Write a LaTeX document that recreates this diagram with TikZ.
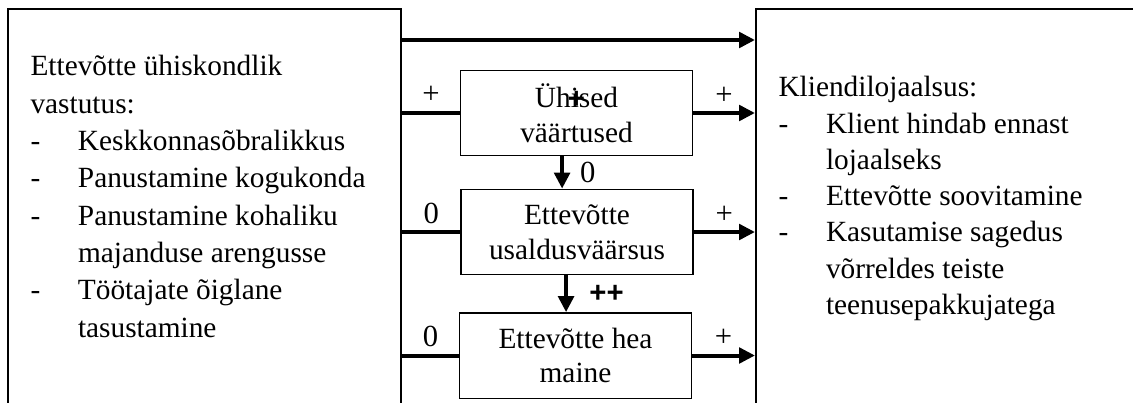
\documentclass[tikz,border=0pt]{standalone}
\usepackage{fontspec}
\setmainfont{Liberation Serif}
\newfontfamily\boldsans{Liberation Sans}
\usetikzlibrary{arrows.meta}

\tikzset{
  bigbox/.style={draw, line width=0.75pt, minimum height=158pt, inner sep=0pt},
  factor/.style={draw, line width=0.5pt, minimum width=87pt, minimum height=32pt,
    align=center, inner sep=0pt, font=\fontsize{11}{13}\selectfont},
  link/.style={line width=1.5pt},
  arr/.style={link, -{Triangle[length=6pt,width=5.8pt]}},
  sign/.style={font=\fontsize{11.5}{13}\selectfont, inner sep=1pt},
  strong/.style={font=\boldsans\bfseries\fontsize{11}{13}\selectfont, inner sep=1pt},
  listtext/.style={align=left, inner sep=0pt, anchor=north west}
}
\newcommand{\itemdash}{\makebox[17.8pt][l]{-}}
\newcommand{\itemgap}{\hspace*{17.8pt}}

\begin{document}
\begin{tikzpicture}[x=0.375pt, y=-0.375pt]
  \clip (0,0) rectangle (1133,403);
  % side boxes
  \node[bigbox, minimum width=147.4pt] (csr)   at (204.5,219.5) {};
  \node[bigbox, minimum width=151.5pt] (loyal) at (958,219.5) {};
  \node[listtext, font=\fontsize{11}{14}\selectfont] (csrtext) at (30,55)
    {Ettevõtte ühiskondlik\\
     vastutus:\\
     \itemdash Keskkonnasõbralikkus\\
     \itemdash Panustamine kogukonda\\
     \itemdash Panustamine kohaliku\\
     \itemgap majanduse arengusse\\
     \itemdash Töötajate õiglane\\
     \itemgap tasustamine};
  \node[listtext, font=\fontsize{11}{13.6}\selectfont] (loyaltext) at (778,76)
    {Kliendilojaalsus:\\
     \itemdash Klient hindab ennast\\
     \itemgap lojaalseks\\
     \itemdash Ettevõtte soovitamine\\
     \itemdash Kasutamise sagedus\\
     \itemgap võrreldes teiste\\
     \itemgap teenusepakkujatega};

  % middle chain
  \node[factor] (values) at (576.5,113)   {Ühised\\väärtused};
  \node[factor] (trust)  at (577,232)     {Ettevõtte\\usaldusväärsus};
  \node[factor] (image)  at (575.5,355.5) {Ettevõtte hea\\maine};
  \node[strong] (stray) at ([yshift=4.9pt]values.center) {+};

  \coordinate (direct) at (0,40);
  \draw[arr] (csr.east |- direct) -- (loyal.west |- direct);

  \draw[link] (csr.east |- values) -- node[sign, above=2pt] {+} (values);
  \draw[arr] (values) -- node[sign, above=1.5pt] {+} (values -| loyal.west);
  \draw[link] (csr.east |- trust) -- node[sign, above=1.5pt] {0} (trust);
  \draw[arr] (trust) -- node[sign, above=1.5pt] {+} (trust -| loyal.west);
  \draw[link] (csr.east |- image) -- node[sign, above=1.5pt] {0} (image);
  \draw[arr] (image) -- node[sign, above=1.5pt] {+} (image -| loyal.west);

  \draw[arr] ([xshift=-5.4pt]values.south) --
    node[sign, right=5pt] {0} ([xshift=-5.4pt]values.south |- trust.north);
  \draw[arr] ([xshift=-4.1pt]trust.south) --
    node[strong, right=7pt] {++} ([xshift=-4.1pt]trust.south |- image.north);
\end{tikzpicture}
\end{document}
